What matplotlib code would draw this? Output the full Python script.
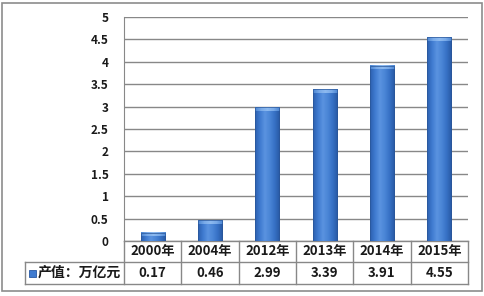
import numpy as np
import matplotlib.pyplot as plt
from matplotlib.colors import LinearSegmentedColormap
from matplotlib.patches import Rectangle
from matplotlib.transforms import blended_transform_factory

plt.rcParams['font.family'] = ['Noto Sans CJK SC', 'DejaVu Sans']

# data
years = ['2000年', '2004年', '2012年', '2013年', '2014年', '2015年']
values = [0.17, 0.46, 2.99, 3.39, 3.91, 4.55]
value_labels = ['0.17', '0.46', '2.99', '3.39', '3.91', '4.55']
series_name = '产值：万亿元'
y_ticks = [0, 0.5, 1, 1.5, 2, 2.5, 3, 3.5, 4, 4.5, 5]
y_tick_labels = ['0', '0.5', '1', '1.5', '2', '2.5', '3', '3.5', '4', '4.5', '5']

W, H = 485, 296
fig = plt.figure(figsize=(W / 100, H / 100), dpi=100)

# outer frame
fig.patches.append(Rectangle((2 / W, 5 / H), 480 / W, 288 / H, transform=fig.transFigure,
                             fill=False, edgecolor='#8c8c8c', lw=1.2))

ax = fig.add_axes([124 / W, 55 / H, 344 / W, 224 / H])
grid_c = '#888888'
txt_c = '#1a1a1a'

# bars with cylinder-like gradient
bar_w = 0.42
cmap = LinearSegmentedColormap.from_list('bar', ['#2c5fae', '#3f7bd0', '#5a93e0', '#4a85d6', '#3670c4', '#2858a2'])
cap = LinearSegmentedColormap.from_list('cap', ['#4a85d2', '#79aae8', '#8dbaf0', '#79aae8', '#4a85d2'])
grad = np.linspace(0, 1, 100).reshape(1, -1)
x = np.arange(len(years))
for xi, v in zip(x, values):
    ax.imshow(grad, cmap=cmap, aspect='auto', extent=(xi - bar_w / 2, xi + bar_w / 2, 0, v), zorder=3)
    capv = min(0.08, v * 0.4)
    ax.imshow(grad, cmap=cap, aspect='auto', extent=(xi - bar_w / 2, xi + bar_w / 2, v - capv, v), zorder=4)
    ax.add_patch(Rectangle((xi - bar_w / 2, 0), bar_w, v, fill=False, edgecolor='#2a5698', lw=0.5, zorder=5))

ax.set_xlim(-0.5, len(years) - 0.5)
ax.set_ylim(0, 5)
ax.set_yticks(y_ticks)
ax.set_yticklabels(y_tick_labels, fontsize=8.5, fontweight='bold', color=txt_c)
ax.tick_params(axis='y', length=0, pad=11)
ax.set_xticks([])
ax.grid(axis='y', color=grid_c, lw=1)
ax.set_axisbelow(True)
for s in ['top', 'right', 'bottom']:
    ax.spines[s].set_visible(False)
ax.spines['left'].set_color(grid_c)

# data table under the chart
tr = blended_transform_factory(ax.transData, ax.transAxes)
r1 = -21 / 224
r2 = -43 / 224
left_x = -0.5 - 99 / (344 / 6)
right_x = len(years) - 0.5
kw = dict(color=grid_c, lw=1, transform=tr, clip_on=False)
ax.plot([-0.5, right_x], [0, 0], **kw)
ax.plot([left_x, right_x], [r1, r1], **kw)
ax.plot([left_x, right_x], [r2, r2], **kw)
ax.plot([left_x, left_x], [r1, r2], **kw)
for b in np.arange(-0.5, len(years)):
    ax.plot([b, b], [0, r2], **kw)

for xi, yr, lab in zip(x, years, value_labels):
    ax.text(xi, r1 / 2, yr, ha='center', va='center', fontsize=9.5, fontweight='bold',
            color=txt_c, transform=tr)
    ax.text(xi, (r1 + r2) / 2, lab, ha='center', va='center', fontsize=9.5, fontweight='bold',
            color=txt_c, transform=tr)

# legend key inside table
px = 344 / 6
ax.add_patch(Rectangle((left_x + 4 / px, (r1 + r2) / 2 - 3.5 / 224), 7 / px, 7 / 224,
                       transform=tr, clip_on=False, facecolor='#3f7bd0', edgecolor='#2858a2', lw=0.6))
ax.text(left_x + 13 / px, (r1 + r2) / 2, series_name, ha='left', va='center', fontsize=10,
        fontweight='bold', color=txt_c, transform=tr)

fig.savefig('out.png', dpi=100)
